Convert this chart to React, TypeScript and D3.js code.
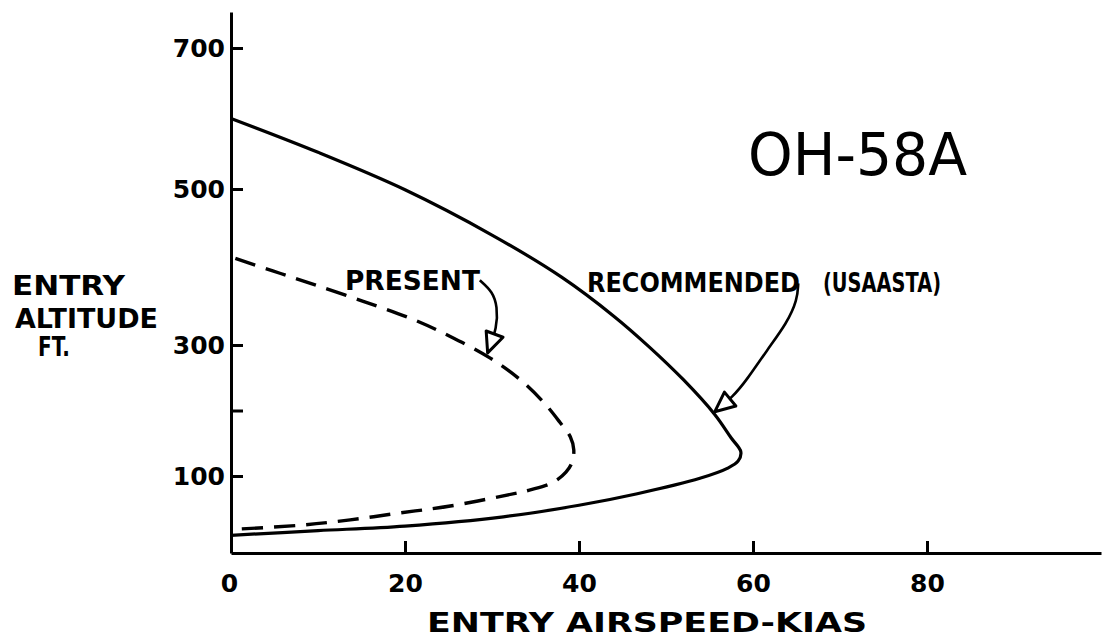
import React, { Component } from 'react'
import * as d3 from 'd3'

// entry airspeed (KIAS) and entry altitude (ft)
const recommendedKias = [0, 10, 20, 30, 38, 44, 48, 52, 55.6, 57.5, 58.6, 58.3, 57.1, 53.9, 46.7, 40, 31.3, 20, 10, 0]
const recommendedFt = [600, 552, 499, 441, 387, 337, 298, 247, 194, 158, 137, 123, 112, 97, 77, 62, 47, 35, 29, 23]

const presentKias = [0.5, 4.8, 9.4, 15.2, 20.9, 25.2, 29.8, 33.6, 36.1, 37.8, 39, 39.4, 39.2, 38.5, 36.9, 34.4, 32.9, 25.2, 19.4, 13.7, 7.9, 0.7]
const presentFt = [411, 395, 378, 356, 333, 311, 280, 243, 210, 182, 160, 140, 121, 106, 91, 82, 78, 61, 52, 43, 36, 31]

const xTicks = [0, 20, 40, 60, 80]
const yTicks = [100, 200, 300, 500, 700]
const yTickLabels = ['100', '', '300', '500', '700']

// leader arrows from the labels down to the curves
const presentArrowKias = [28.6, 30.1, 30.6, 30.6, 29.5]
const presentArrowFt = [383, 368, 349, 323, 288]
const recArrowKias = [65.2, 65.1, 63.9, 61.6, 59.3, 57.7, 55.6]
const recArrowFt = [379, 358, 328, 292, 247, 221, 198]

const font = 'DejaVu Sans'

class Chart extends Component {
	svgRef = React.createRef<SVGSVGElement>()

	componentDidMount() {
		this.drawChart()
	}

	drawChart() {
		const svg = d3.select(this.svgRef.current)
		svg.selectAll('*').remove()

		const xScale = d3.scaleLinear().domain([0, 100]).range([231, 1101])
		// hand-drawn axis, the ticks are not evenly spaced
		const yScale = d3
			.scaleLinear()
			.domain([0, 100, 300, 500, 700, 750])
			.range([553, 476, 345, 189, 48, 12])

		svg
			.append('defs')
			.append('marker')
			.attr('id', 'open-arrow')
			.attr('markerUnits', 'userSpaceOnUse')
			.attr('viewBox', '-3 -12 27 24')
			.attr('markerWidth', 27)
			.attr('markerHeight', 24)
			.attr('refX', 20)
			.attr('refY', 0)
			.attr('orient', 'auto')
			.append('path')
			.attr('d', 'M0,-9L20,0L0,9Z')
			.attr('fill', 'white')
			.attr('stroke', 'black')
			.attr('stroke-width', 3)
			.attr('stroke-linejoin', 'round')

		const xAxis = svg
			.append('g')
			.attr('transform', `translate(0, ${yScale(0)})`)
			.call(
				d3
					.axisBottom(xScale)
					.tickValues(xTicks)
					.tickSizeInner(-12)
					.tickSizeOuter(0)
					.tickPadding(21)
			)

		const yAxis = svg
			.append('g')
			.attr('transform', `translate(${xScale(0)}, 0)`)
			.call(
				d3
					.axisLeft(yScale)
					.tickValues(yTicks)
					.tickSizeInner(-12)
					.tickSizeOuter(0)
					.tickPadding(6)
					.tickFormat((d, i) => yTickLabels[i])
			)

		for (const axis of [xAxis, yAxis]) {
			axis.select('.domain').attr('stroke-width', 3)
			axis.selectAll('.tick line').attr('stroke-width', 3)
			axis
				.selectAll('.tick text')
				.attr('font-family', font)
				.attr('font-weight', 'bold')
				.attr('font-size', 25)
				.attr('fill', 'black')
		}
		xAxis.select('.tick text').attr('dx', -2)

		const line = d3
			.line<[number, number]>()
			.x((d) => xScale(d[0]))
			.y((d) => yScale(d[1]))
			.curve(d3.curveCatmullRom.alpha(0.5))

		svg
			.append('path')
			.attr('d', line(d3.zip(recommendedKias, recommendedFt) as [number, number][]))
			.attr('fill', 'none')
			.attr('stroke', 'black')
			.attr('stroke-width', 3.2)
			.attr('stroke-linejoin', 'round')

		svg
			.append('path')
			.attr('d', line(d3.zip(presentKias, presentFt) as [number, number][]))
			.attr('fill', 'none')
			.attr('stroke', 'black')
			.attr('stroke-width', 3.4)
			.attr('stroke-dasharray', '21,11')

		const arrow = d3
			.line<[number, number]>()
			.x((d) => xScale(d[0]))
			.y((d) => yScale(d[1]))
			.curve(d3.curveBasis)

		for (const [ks, fs] of [
			[presentArrowKias, presentArrowFt],
			[recArrowKias, recArrowFt],
		]) {
			svg
				.append('path')
				.attr('d', arrow(d3.zip(ks, fs) as [number, number][]))
				.attr('fill', 'none')
				.attr('stroke', 'black')
				.attr('stroke-width', 2.6)
				.attr('marker-end', 'url(#open-arrow)')
		}

		const label = (txt: string, x: number, y: number, len: number, size = 27, weight = 'bold') =>
			svg
				.append('text')
				.attr('x', x)
				.attr('y', y)
				.attr('font-family', font)
				.attr('font-weight', weight)
				.attr('font-size', size)
				.attr('textLength', len)
				.attr('lengthAdjust', 'spacingAndGlyphs')
				.text(txt)

		label('ENTRY', 12, 295, 113)
		label('ALTITUDE', 15, 328, 143)
		label('FT.', 38, 356, 32)
		label('ENTRY AIRSPEED-KIAS', 427, 632, 440)
		label('PRESENT', 345, 290, 135)
		label('RECOMMENDED', 587, 292, 213)
		label('(USAASTA)', 823, 292, 118)
		label('OH-58A', 748, 175, 219, 58, 'normal')
	}

	render() {
		return (
			<svg
				ref={this.svgRef}
				width={1102}
				height={639}
				style={{ position: 'absolute', left: 0, top: 0, background: 'white' }}
			/>
		)
	}
}

export default function App() {
	return <Chart />
}
